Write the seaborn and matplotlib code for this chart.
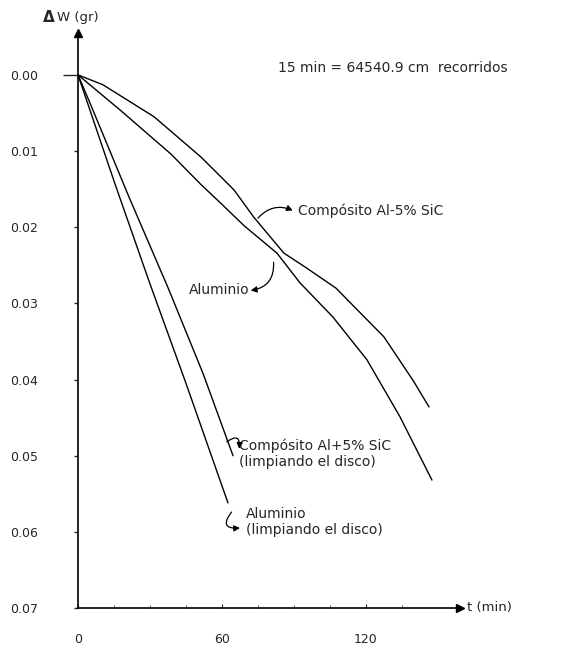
import numpy as np
import pandas as pd
import matplotlib
matplotlib.use("Agg")
import matplotlib.pyplot as plt
import seaborn as sns

# Weight loss ΔW (g) against sliding time t (min)
t_comp = [0, 10.4, 31.7, 51.3, 65.0, 73.3, 85.8, 95.0, 107.5, 127.5, 139.6, 146.3]
w_comp = [0, 0.0013, 0.0055, 0.0108, 0.0151, 0.0187, 0.0234, 0.0253, 0.0280, 0.0344, 0.0401, 0.0436]

t_al = [0, 17.5, 38.75, 51.25, 60.0, 69.2, 82.9, 92.5, 106.25, 120.4, 134.2, 147.5]
w_al = [0, 0.0046, 0.0104, 0.0144, 0.0170, 0.0198, 0.0234, 0.0273, 0.0318, 0.0374, 0.0449, 0.0532]

t_comp_clean = [0, 5.0, 21.2, 37.6, 52.1, 64.6]
w_comp_clean = [0, 0.0037, 0.0160, 0.0280, 0.0392, 0.0500]

t_al_clean = [0, 15.4, 29.5, 45.0, 62.5]
w_al_clean = [0, 0.0143, 0.0270, 0.0405, 0.0562]

y_ticks = [0.00, 0.01, 0.02, 0.03, 0.04, 0.05, 0.06, 0.07]
x_ticks = [0, 60, 120]

series = {
    "comp": (t_comp, w_comp),
    "al": (t_al, w_al),
    "comp_clean": (t_comp_clean, w_comp_clean),
    "al_clean": (t_al_clean, w_al_clean),
}
df = pd.concat(
    [pd.DataFrame({"t": t, "dw": w, "serie": k}) for k, (t, w) in series.items()],
    ignore_index=True,
)

sns.set_style("white")
plt.rcParams["font.family"] = ["DejaVu Sans"]

W, H = 570, 665
fig = plt.figure(figsize=(W / 100, H / 100), dpi=100)
ax = fig.add_axes([78 / W, 57 / H, 382 / W, 575 / H])

sns.lineplot(data=df, x="t", y="dw", units="serie", estimator=None, sort=False,
             color="black", lw=1.0, ax=ax)

ax.set_xlim(0, 159.2)
ax.set_ylim(0.07, -0.0055)

for s in ["top", "right"]:
    ax.spines[s].set_visible(False)
for s in ["left", "bottom"]:
    ax.spines[s].set_color("black")
    ax.spines[s].set_linewidth(1.2)
ax.plot(1, 0, ">k", transform=ax.transAxes, clip_on=False, ms=6)
ax.plot(0, 1, "^k", transform=ax.transAxes, clip_on=False, ms=6)

ax.set_yticks(y_ticks)
ax.set_yticklabels([f"{v:.2f}" for v in y_ticks])
ax.set_xticks(x_ticks)
ax.set_xticklabels([str(v) for v in x_ticks])
ax.set_xticks(np.arange(15, 150, 15), minor=True)
ax.tick_params(axis="y", direction="out", length=3, width=1, pad=26, labelsize=9, left=True)
ax.tick_params(axis="x", which="major", direction="in", length=3, pad=18, labelsize=9, bottom=True)
ax.tick_params(axis="x", which="minor", direction="in", length=2, bottom=True)
ax.yaxis.get_major_ticks()[0].tick1line.set_markersize(11)
ax.set_xlabel("")
ax.set_ylabel("")

# axis titles
fig.text(43 / W, 1 - 18 / H, "Δ", fontsize=11, weight="bold", va="center", ha="left")
fig.text(57 / W, 1 - 18 / H, "W (gr)", fontsize=9.5, va="center", ha="left")
fig.text(467 / W, 57 / H, "t (min)", fontsize=9.5, va="center", ha="left")

fs = 10
ax.text(83.5, -0.0009, "15 min = 64540.9 cm  recorridos", fontsize=fs, va="center", ha="left")

arrow = dict(arrowstyle="-|>,head_length=0.35,head_width=0.18", color="black", lw=0.9,
             shrinkA=0, shrinkB=0)

# labels for the curves, each tied to its curve by a small curled arrow
ax.text(91.5, 0.0178, "Compósito Al-5% SiC", fontsize=fs, va="center", ha="left")
ax.annotate("", xy=(89.5, 0.0178), xytext=(75.0, 0.0188),
            arrowprops=dict(arrow, connectionstyle="arc3,rad=-0.35"))

ax.text(71.5, 0.0283, "Aluminio", fontsize=fs, va="center", ha="right")
ax.annotate("", xy=(72.0, 0.0283), xytext=(81.5, 0.0246),
            arrowprops=dict(arrow, connectionstyle="arc3,rad=-0.45"))

ax.text(67.0, 0.0477, "Compósito Al+5% SiC\n(limpiando el disco)", fontsize=fs,
        va="top", ha="left", linespacing=1.2)
ax.annotate("", xy=(67.2, 0.0491), xytext=(62.0, 0.0482),
            arrowprops=dict(arrow, connectionstyle="arc3,rad=-1.1"))

ax.text(70.0, 0.0567, "Aluminio\n(limpiando el disco)", fontsize=fs,
        va="top", ha="left", linespacing=1.2)
ax.annotate("", xy=(67.5, 0.0595), xytext=(64.0, 0.0574),
            arrowprops=dict(arrow, connectionstyle="arc3,rad=1.1"))

fig.savefig("out.png", dpi=100)
